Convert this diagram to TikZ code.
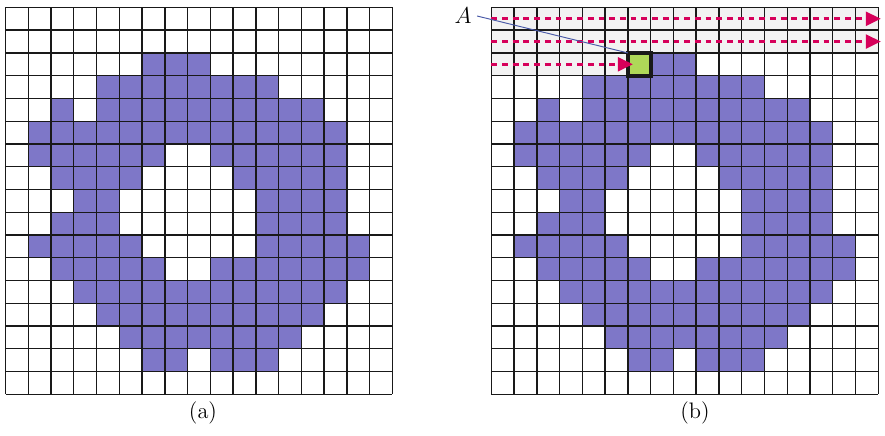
\documentclass[tikz,border=0pt]{standalone}
\usetikzlibrary{arrows.meta}
\definecolor{cellpurple}{HTML}{7E77C8}
\definecolor{cellgreen}{HTML}{AED858}
\definecolor{scangray}{HTML}{F2F2F2}
\definecolor{scanred}{HTML}{D6005A}
\definecolor{leaderblue}{HTML}{4A5AA8}
\newcommand\drawshape[2]{%
  \foreach \r/\a/\b in {2/6/8,3/4/11,4/2/2,4/4/13,5/1/14,6/1/6,6/9/14,7/2/5,7/10/14,8/3/4,8/11/14,9/2/4,9/11/14,10/1/5,10/11/15,11/2/6,11/9/15,12/3/14,13/4/13,14/5/12,15/6/7,15/9/11}{%
    \foreach \c in {\a,...,\b}{%
      \fill[cellpurple] ({#1+\c*22.76},{#2+\r*22.76}) rectangle ++(22.76,22.76);
    }%
  }%
}
\newcommand\drawgridlines[2]{%
  \foreach \i in {0,...,17}{%
    \draw[gridline] ({#1+\i*22.76},#2) -- ++(0,386.92);
    \draw[gridline] (#1,{#2+\i*22.76}) -- ++(386.92,0);
  }%
}
\begin{document}
\begin{tikzpicture}[x=0.625pt,y=-0.625pt,
  gridline/.style={line width=0.85pt,black!90},
  scanarrow/.style={scanred,line width=2.1pt,dash pattern=on 3.6pt off 3.1pt,
    -{Triangle[length=9.5pt,width=8.5pt]}},
  greencell/.style={draw=black!90,fill=cellgreen,line width=2.5pt,minimum size=14.225pt,inner sep=0pt,outer sep=0pt},
  leader/.style={leaderblue,line width=0.6pt},
  caption/.style={font=\fontsize{14}{16}\selectfont}]
\useasboundingbox (0,0) rectangle (885,435);
% (a)
\drawshape{5.5}{7.4}
\drawgridlines{5.5}{7.4}
% (b)
\fill[scangray] (491.3,7.4) rectangle ++(386.92,45.52);
\fill[scangray] (491.3,52.92) rectangle ++(136.56,22.76);
\drawshape{491.3}{7.4}
\drawgridlines{491.3}{7.4}
\node[greencell] (pixA) at (639.24,64.3) {};
\coordinate (r0s) at (491.3,18.78);
\coordinate (r0e) at (881,18.78);
\coordinate (r1s) at (491.3,41.54);
\coordinate (r1e) at (881,41.54);
\coordinate (r2s) at (491.3,64.3);
\coordinate (r2e) at (633,64.3);
\draw[scanarrow] (r0s) -- (r0e);
\draw[scanarrow] (r1s) -- (r1e);
\draw[scanarrow] (r2s) -- (r2e);
\node[font=\fontsize{15}{17}\selectfont] (labA) at (463,16) {$A$};
\draw[leader] (labA.east) -- (pixA.north west);
\node[caption] (capa) at (203,413) {(a)};
\node[caption] (capb) at (695,413) {(b)};
\end{tikzpicture}
\end{document}
